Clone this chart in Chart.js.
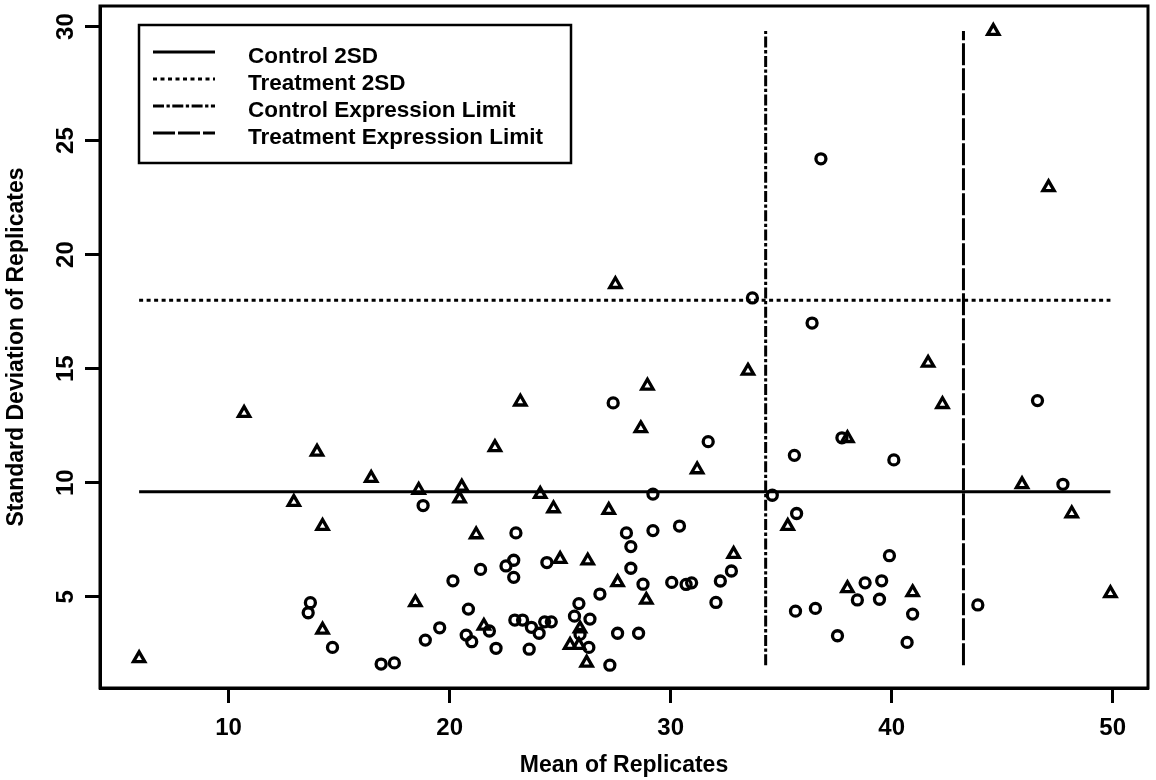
<!DOCTYPE html>
<html>
<head>
<meta charset="utf-8">
<script src="https://cdn.jsdelivr.net/npm/chart.js@4.4.1/dist/chart.umd.min.js"></script>
<style>
  html, body { margin: 0; padding: 0; background: #fff; }
  #wrap { width: 1156px; height: 780px; }
</style>
</head>
<body>
<div id="wrap"><canvas id="myChart" width="1156" height="780"></canvas></div>
<script>
// control replicates (circles)
const controlMean = [36.8, 33.7, 27.4, 31.7, 18.8, 29.2, 34.6, 23.0, 28.0, 29.2, 30.4, 28.2,
  36.4, 46.6, 37.75, 35.6, 40.1, 47.75, 35.7, 39.9, 13.7, 13.6, 14.7, 16.9, 17.5,
  24.4, 22.9, 22.55, 22.9, 21.4, 20.15, 28.2, 28.75, 30.05, 30.7, 30.95, 32.25, 32.75,
  32.05, 26.8, 25.85, 25.65, 26.35, 20.85, 21.8, 19.55, 18.9, 20.75, 21.0, 22.1,
  22.95, 23.3, 23.7, 24.3, 24.6, 24.05, 23.6, 25.9, 26.3, 27.25, 27.6, 28.55,
  38.8, 39.55, 38.45, 39.45, 40.95, 35.65, 36.55, 37.55, 40.7, 43.9];
const controlSD = [24.2, 18.1, 13.5, 11.8, 9.0, 9.5, 9.45, 7.8, 7.8, 7.9, 8.1, 7.2,
  17.0, 13.6, 11.97, 11.2, 11.0, 9.93, 8.65, 6.8, 4.74, 4.3, 2.78, 2.05, 2.1,
  6.5, 6.6, 6.35, 5.85, 6.2, 5.7, 6.25, 5.55, 5.63, 5.54, 5.61, 5.69, 6.13,
  4.75, 5.12, 4.7, 4.15, 4.02, 4.46, 3.5, 3.64, 3.1, 3.32, 3.03, 2.74,
  3.98, 3.98, 3.66, 3.9, 3.9, 3.4, 2.7, 3.35, 2.78, 2.0, 3.4, 3.4,
  5.61, 5.7, 4.86, 4.89, 4.24, 4.37, 4.49, 3.29, 3.0, 4.64];

// treatment replicates (triangles)
const treatMean = [44.6, 47.1, 10.7, 14.0, 16.45, 12.95, 14.25, 27.5, 33.5, 28.95, 23.2, 28.65,
  22.05, 31.2, 18.6, 20.55, 20.45, 24.1, 24.7, 27.2, 21.2, 32.85, 41.65, 42.3, 38.0,
  45.9, 48.15, 35.3, 5.95, 14.25, 25.0, 26.25, 27.6, 28.9, 18.45, 21.55, 25.9,
  25.45, 25.85, 26.2, 38.0, 40.95, 49.9];
const treatSD = [29.8, 22.95, 13.05, 11.35, 10.2, 9.15, 8.1, 18.7, 14.9, 14.25, 13.55, 12.38,
  11.55, 10.58, 9.68, 9.82, 9.3, 9.5, 8.87, 8.8, 7.73, 6.87, 15.25, 13.44, 11.95,
  9.93, 8.65, 8.1, 2.3, 3.55, 6.65, 6.58, 5.63, 4.86, 4.75, 3.72, 3.6,
  2.88, 2.88, 2.1, 5.37, 5.19, 5.15];

const control2SD = 9.6;
const treatment2SD = 18.0;
const controlLimit = 34.3;
const treatmentLimit = 43.25;

const xTicks = [10, 20, 30, 40, 50];
const yTicks = [5, 10, 15, 20, 25, 30];

const FONT = "'Liberation Sans', Arial, Helvetica, sans-serif";
Chart.defaults.font.family = FONT;
Chart.defaults.color = '#000';

const allMean = controlMean.concat(treatMean);
const allSD = controlSD.concat(treatSD);
const xLo = Math.min(...allMean), xHi = Math.max(...allMean);
const yLo = Math.min(...allSD), yHi = Math.max(...allSD);

function pts(xs, ys) {
  return xs.map((v, i) => ({ x: v, y: ys[i] }));
}

function refLine(label, data, dash) {
  return {
    type: 'line', label: label, data: data, inLegend: true,
    borderColor: '#000', borderWidth: 3, borderDash: dash, borderCapStyle: 'butt',
    pointRadius: 0, fill: false, tension: 0, showLine: true, order: 1
  };
}

// box round the plot + legend inside it
const boxLegend = {
  id: 'boxLegend',
  afterDraw(chart) {
    const c = chart.ctx;
    const a = chart.chartArea;
    c.save();
    c.strokeStyle = '#000';
    c.lineWidth = 3;
    c.strokeRect(a.left, a.top, a.right - a.left, a.bottom - a.top);

    c.lineWidth = 2.5;
    c.strokeRect(139, 25, 432, 138);
    const items = chart.data.datasets.filter(d => d.inLegend);
    c.font = 'bold 22.5px ' + FONT;
    c.textBaseline = 'middle';
    c.fillStyle = '#000';
    items.forEach((d, i) => {
      const y = 52 + i * 27;
      c.lineWidth = 3;
      c.setLineDash(d.borderDash || []);
      c.beginPath();
      c.moveTo(153, y);
      c.lineTo(215, y);
      c.stroke();
      c.setLineDash([]);
      c.fillText(d.label, 248, y + 4.5);
    });
    c.restore();
  }
};

new Chart(document.getElementById('myChart'), {
  type: 'scatter',
  data: {
    datasets: [
      {
        label: 'Control', data: pts(controlMean, controlSD), order: 2,
        pointStyle: 'circle', pointRadius: 5, pointBorderWidth: 3.3,
        pointBorderColor: '#000', pointBackgroundColor: 'rgba(0,0,0,0)'
      },
      {
        label: 'Treatment', data: pts(treatMean, treatSD), order: 2,
        pointStyle: 'triangle', pointRadius: 6.5, pointBorderWidth: 3.3,
        pointBorderColor: '#000', pointBackgroundColor: 'rgba(0,0,0,0)'
      },
      refLine('Control 2SD', [{ x: xLo, y: control2SD }, { x: xHi, y: control2SD }], []),
      refLine('Treatment 2SD', [{ x: xLo, y: treatment2SD }, { x: xHi, y: treatment2SD }], [4, 3.5]),
      refLine('Control Expression Limit', [{ x: controlLimit, y: yLo }, { x: controlLimit, y: yHi }], [11, 2.5, 3.3, 2.5]),
      refLine('Treatment Expression Limit', [{ x: treatmentLimit, y: yLo }, { x: treatmentLimit, y: yHi }], [22, 3])
    ]
  },
  options: {
    responsive: false,
    animation: false,
    devicePixelRatio: 1,
    events: [],
    layout: { autoPadding: false, padding: { top: 6, right: 8, left: 0, bottom: 0 } },
    plugins: { legend: { display: false }, tooltip: { enabled: false } },
    scales: {
      x: {
        type: 'linear', min: 4.18, max: 51.6,
        afterBuildTicks: s => { s.ticks = xTicks.map(v => ({ value: v })); },
        afterFit: s => { s.height = 92; },
        grid: { drawOnChartArea: false, tickLength: 15, tickWidth: 3, tickColor: '#000' },
        border: { display: true, color: '#000', width: 3 },
        ticks: { color: '#000', font: { size: 24, weight: 'bold' }, padding: 11, maxRotation: 0 },
        title: { display: true, text: 'Mean of Replicates', color: '#000',
          font: { size: 23, weight: 'bold' }, padding: { top: 1, bottom: 1 } }
      },
      y: {
        type: 'linear', min: 1.0, max: 30.9,
        afterBuildTicks: s => { s.ticks = yTicks.map(v => ({ value: v })); },
        afterFit: s => { s.width = 100; s.paddingTop = 0; s.paddingBottom = 0; },
        grid: { drawOnChartArea: false, tickLength: 15, tickWidth: 3, tickColor: '#000' },
        border: { display: true, color: '#000', width: 3 },
        ticks: { color: '#000', font: { size: 24, weight: 'bold' }, padding: 5,
          minRotation: 90, maxRotation: 90, crossAlign: 'center' },
        title: { display: true, text: 'Standard Deviation of Replicates', color: '#000',
          font: { size: 23, weight: 'bold' }, padding: { top: 3, bottom: 0 } }
      }
    }
  },
  plugins: [boxLegend]
});
</script>
</body>
</html>
